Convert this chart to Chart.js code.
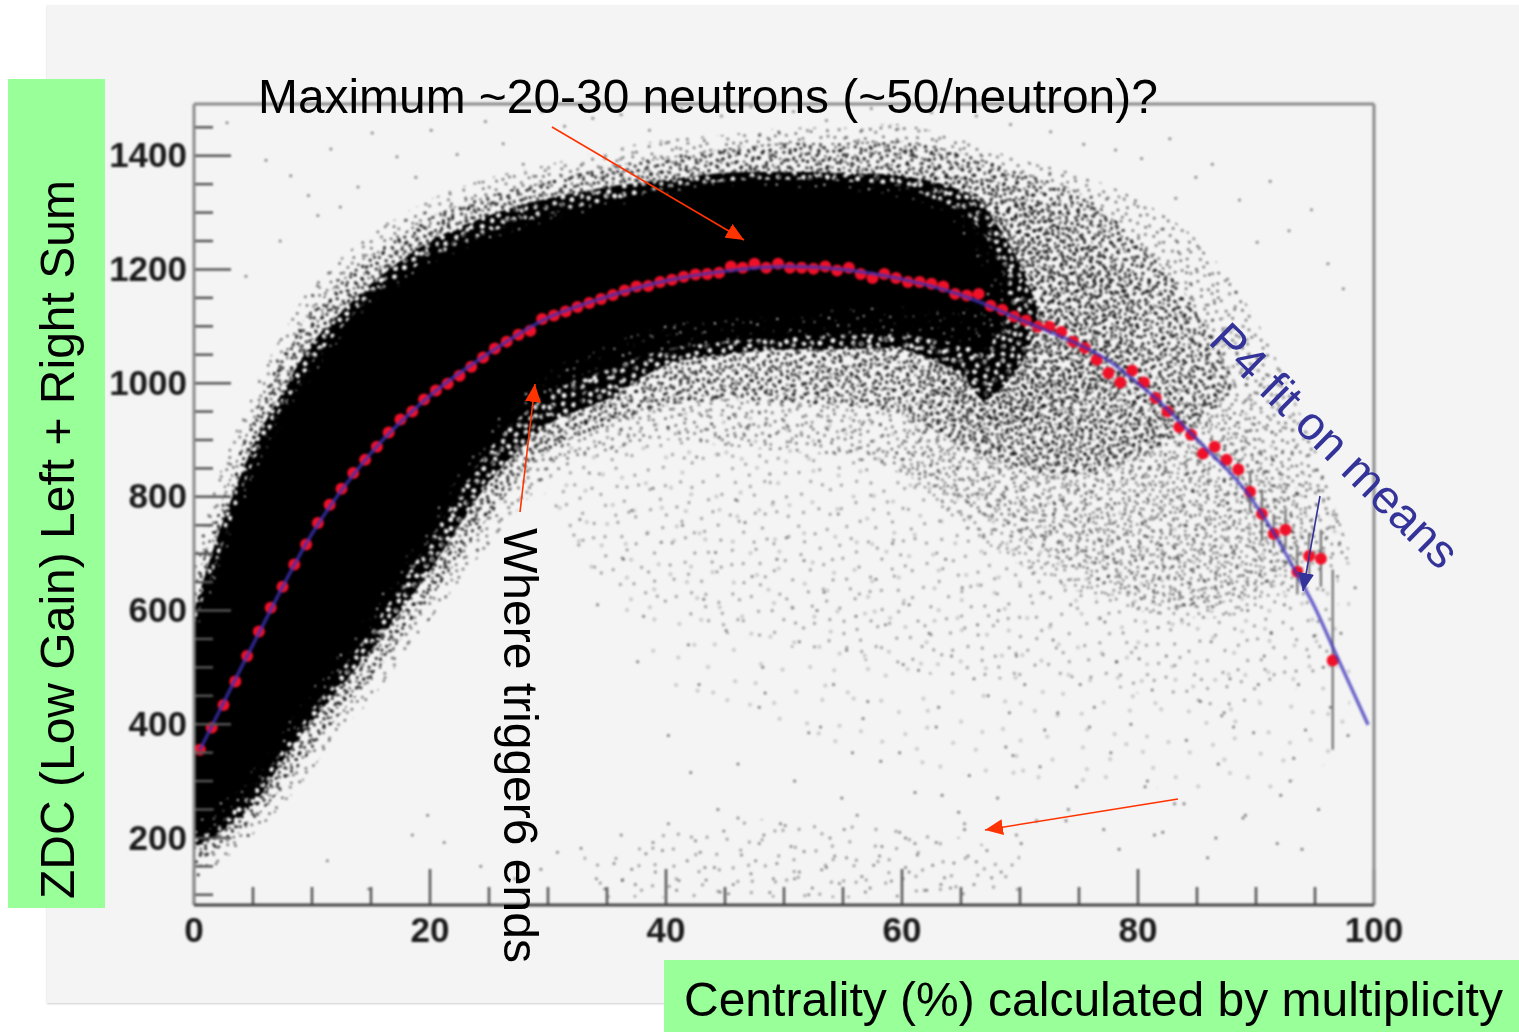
<!DOCTYPE html>
<html>
<head>
<meta charset="utf-8">
<title>ZDC vs centrality</title>
<script src="https://cdn.jsdelivr.net/npm/chart.js@4/dist/chart.umd.js"></script>
<style>
  html, body { margin: 0; padding: 0; background: #fff; overflow: hidden; }
  body { width: 1519px; height: 1032px; position: relative; font-family: "Liberation Sans", Arial, sans-serif; }
  #panel { position: absolute; left: 47px; top: 5px; width: 1472px; height: 998px; background: #f4f4f4; box-shadow: 0 1px 2px #ccc; }
  #wrap { position: absolute; left: 0; top: 0; width: 1519px; height: 1032px; filter: blur(0.8px); }
  .box { position: absolute; background: #99ff99; }
  .note { position: absolute; font-size: 48px; line-height: 48px; color: #000; white-space: nowrap; transform-origin: 0 0; }
  svg { position: absolute; left: 0; top: 0; }
</style>
</head>
<body>
<div id="panel"></div>
<div class="box" style="left:8px;top:79px;width:97px;height:829px"></div>
<div class="box" style="left:664px;top:960px;width:855px;height:72px"></div>
<div id="wrap"><canvas id="chart" width="1519" height="1032"></canvas></div>
<svg width="1519" height="1032">
  <defs>
    <marker id="redHead" markerUnits="userSpaceOnUse" markerWidth="20" markerHeight="16" refX="18" refY="8" orient="auto"><path d="M0,0 L18,8 L0,16 Z" fill="#ff3300"/></marker>
    <marker id="blueHead" markerUnits="userSpaceOnUse" markerWidth="20" markerHeight="16" refX="18" refY="8" orient="auto"><path d="M0,0 L18,8 L0,16 Z" fill="#333399"/></marker>
  </defs>
  <g stroke="#ff3300" stroke-width="1.6" fill="none">
    <line x1="552" y1="127" x2="744" y2="240" marker-end="url(#redHead)"/>
    <line x1="520" y1="512" x2="535" y2="384" marker-end="url(#redHead)"/>
    <line x1="1178" y1="799" x2="985" y2="830" marker-end="url(#redHead)"/>
  </g>
  <line x1="1320" y1="496" x2="1303" y2="591" stroke="#333399" stroke-width="1.6" marker-end="url(#blueHead)"/>
</svg>
<div class="note" style="left:258px;top:73px;font-size:47.9px">Maximum ~20-30 neutrons (~50/neutron)?</div>
<div class="note" style="left:684px;top:976px">Centrality (%) calculated by multiplicity</div>
<div class="note" style="left:34px;top:899px;transform:rotate(-90deg)">ZDC (Low Gain) Left + Right Sum</div>
<div class="note" style="left:544px;top:528px;transform:rotate(90deg)">Where trigger6 ends</div>
<div class="note" style="left:1235px;top:314px;font-size:47px;transform:rotate(44.5deg);color:#333399">P4 fit on means</div>
<script>
// axis ticks
const xTickLabels = [0, 20, 40, 60, 80, 100];
const yTickLabels = [200, 400, 600, 800, 1000, 1200, 1400];
const xMinorTicks = [5, 10, 15, 25, 30, 35, 45, 50, 55, 65, 70, 75, 85, 90, 95];
const yMinorTicks = [100, 150, 250, 300, 350, 450, 500, 550, 650, 700, 750, 850, 900, 950, 1050, 1100, 1150, 1250, 1300, 1350, 1450];

// means per centrality bin
const meanX = [0.5,1.5,2.5,3.5,4.5,5.5,6.5,7.5,8.5,9.5,10.5,11.5,12.5,13.5,14.5,15.5,16.5,17.5,18.5,19.5,20.5,21.5,22.5,23.5,24.5,25.5,26.5,27.5,28.5,29.5,30.5,31.5,32.5,33.5,34.5,35.5,36.5,37.5,38.5,39.5,40.5,41.5,42.5,43.5,44.5,45.5,46.5,47.5,48.5,49.5,50.5,51.5,52.5,53.5,54.5,55.5,56.5,57.5,58.5,59.5,60.5,61.5,62.5,63.5,64.5,65.5,66.5,67.5,68.5,69.5,70.5,71.5,72.5,73.5,74.5,75.5,76.5,77.5,78.5,79.5,80.5,81.5,82.5,83.5,84.5,85.5,86.5,87.5,88.5,89.5,90.5,91.5,92.5,93.5,94.5,95.5,96.5];
const meanY = [355,394,434,475,520,563,605,642,681,716,754,786,814,842,865,888,913,936,950,971,987,999,1013,1029,1045,1061,1073,1085,1092,1113,1119,1126,1134,1141,1148,1155,1163,1170,1171,1178,1182,1187,1191,1192,1194,1205,1203,1210,1203,1210,1203,1203,1201,1205,1198,1203,1192,1185,1192,1185,1178,1178,1175,1170,1157,1154,1157,1136,1129,1117,1110,1099,1099,1090,1073,1062,1041,1018,1001,1022,1001,974,950,923,909,876,888,865,848,809,770,735,742,668,696,691,512];

// error bars, only visible at the far end
const errX = [88.5,89.5,90.5,91.5,92.5,93.5,94.5,95.5,96.5];
const errLow = [830,775,725,710,708,628,659,642,355];
const errHigh = [866,845,812,770,778,710,737,742,672];

// P4 fit
const fitX = [0.5,5,10,15,20,25,30,35,40,45,50,55,60,65,70,75,77.4,79.6,81.9,84.2,86.1,88,89.5,91.5,93.5,95,96.5,99.5];
const fitY = [355,540,735,877,978,1053,1115,1152,1180,1197,1205,1200,1183,1155,1112,1068,1041,1006,966,918,878,838,800,737,663,605,536,399];

// edges of the scatter cloud, from solid black out to thin dust
const coreX = [0,2,5,7.5,10,12.5,15,20,25,30,35,40,45,50,55,60,64,66,67.5];
const coreTop = [549,663,830,927,1010,1080,1133,1206,1252,1284,1308,1331,1345,1345,1340,1325,1290,1235,1175];
const coreBottom = [223,258,320,390,461,531,601,760,918,1020,1068,1103,1112,1120,1129,1134,1125,1135,1165];
const innerX = [0,2,5,7.5,10,12.5,15,20,25,30,35,40,45,50,55,60,65,67,69];
const innerTop = [575,690,860,955,1035,1098,1150,1220,1265,1297,1320,1343,1355,1358,1355,1345,1300,1260,1170];
const innerBottom = [197,223,285,355,426,496,566,725,883,980,1024,1059,1073,1080,1085,1085,1068,1060,1120];
const midX = [0,2,5,7.5,10,12.5,15,20,25,30,35,40,45,50,55,60,65,67,70,71.5];
const midTop = [600,730,890,985,1070,1125,1175,1250,1295,1325,1345,1358,1370,1372,1370,1365,1340,1310,1210,1130];
const midBottom = [179,206,258,335,405,467,530,670,825,927,971,1032,1050,1059,1059,1059,1015,970,1030,1100];
const shoulderX = [0,2,5,7.5,10,12.5,15,20,25,30,35,40,45,50,55,60,65,70,75,80,85,88];
const shoulderTop = [640,770,940,1050,1130,1180,1225,1292,1330,1355,1380,1397,1412,1422,1422,1425,1405,1370,1335,1250,1130,1010];
const shoulderBottom = [150,180,230,290,355,420,480,620,765,880,925,960,970,965,960,945,890,850,840,870,930,980];
const shadeX = [62,68,74,80];
const shadeTop = [1385,1345,1285,1170];
const shadeBottom = [1000,930,960,1040];
const haloX = [0,2,5,7.5,10,12.5,15,20,25,30,35,40,45,50,55,60,65,70,75,80,85,90,95,98];
const haloTop = [689,830,988,1085,1173,1221,1261,1323,1361,1384,1410,1428,1437,1449,1449,1455,1428,1393,1367,1323,1252,1112,883,700];
const haloBottom = [126,153,206,258,320,390,443,584,716,830,880,900,890,880,870,840,790,730,670,620,600,640,689,690];
const thinX = [27,35,45,55,65,75,85,92,97];
const thinTop = [1000,1000,1000,1050,1100,1200,1150,1000,800];
const thinBottom = [900,650,560,520,480,480,430,450,500];
const rightX = [60,70,80,88,94];
const rightTop = [1000,1000,1020,950,800];
const rightBottom = [830,680,600,590,650];
const faintX = [30,40,50,60,70,80,90,98];
const faintTop = [950,950,950,950,950,950,950,700];
const faintBottom = [800,480,380,330,300,290,280,350];
const floorX = [33,40,50,60,70];
const floorTop = [170,210,235,225,170];
const floorBottom = [95,95,95,95,100];

// stray events, read by eye
const strayX = [2.8,6.1,8.2,10.5,12.4,13.9,15.1,17.2,4.4,7.3,9.7,11.6,14.6,16.4,18.8,20.1,22.3,24.7,26.2,27.9,19.6,23.4,29.5,31.4,33.8,36.2,38.6,41.3,44.7,47.2,50.8,53.6,57.4,62.5,66.3,69.2,72.6,75.4,78.1,80.3,82.7,84.9,86.3,88.6,91.2,92.8,94.7,96.1,97.4,90.1,87.4,83.2];
const strayY = [1458,1392,1365,1295,1310,1345,1440,1398,1188,1250,1330,1412,1225,1280,1362,1445,1402,1460,1421,1385,1238,1310,1478,1452,1466,1472,1445,1482,1470,1486,1478,1462,1483,1476,1470,1455,1442,1420,1410,1395,1430,1362,1385,1322,1355,1268,1305,1210,1166,1248,1180,1325];
const sparseX = [31.2,33.5,35.8,37.1,38.9,41.4,42.6,44.2,45.9,47.3,48.8,50.2,51.7,53.4,54.6,56.1,57.8,59.2,60.6,62.3,63.7,65.1,66.4,68.2,69.7,71.1,72.8,74.3,75.6,77.2,78.9,80.1,81.7,83.4,84.6,86.2,87.8,89.3,90.7,92.4,93.6,94.9,96.3,97.8,98.4,
  32.7,36.4,39.6,43.2,46.7,49.4,52.8,55.3,58.6,61.4,64.2,67.3,70.4,73.2,76.3,79.4,82.4,85.3,88.1,91.3,94.2,96.9,
  34.2,38.1,41.9,45.1,48.2,51.3,54.2,57.1,60.1,63.1,66.1,69.1,72.1,75.1,78.2,81.2,84.1,87.1,90.2,93.2,95.7,97.2,
  37.6,42.8,47.9,52.1,56.7,59.8,62.9,65.7,68.8,71.7,74.8,77.7,80.8,83.9,86.8,89.8,92.9,95.3,
  40.2,46.1,50.9,55.8,61.1,64.8,68.1,71.4,74.1,77.1,80.6,83.1,86.6,89.1,92.1,
  44.4,49.7,54.9,60.3,65.3,70.1,73.9,78.4,82.1,85.9,88.9,91.8,
  42.1,48.4,53.1,58.2,63.4,69.4,75.9,81.4,87.3,93.9];
const sparseY = [905,842,880,776,815,750,870,702,795,660,840,728,688,632,770,590,655,718,610,560,690,640,575,600,520,665,548,610,705,580,640,515,570,690,612,545,480,600,520,610,470,555,430,380,640,
  760,690,720,620,755,690,600,530,575,495,520,450,470,420,430,400,520,440,395,560,390,660,
  610,590,540,565,500,545,470,440,505,430,480,420,390,470,510,460,372,415,470,340,500,560,
  510,470,430,385,410,350,395,310,360,325,290,350,300,260,330,385,300,250,
  380,330,300,350,280,245,270,230,250,215,290,260,200,240,275,
  250,225,270,200,215,190,230,180,210,165,235,190,
  315,455,395,335,275,345,395,205,420,180];
const bottomX = [32.8,34.1,35.6,36.2,37.4,38.3,39.1,40.2,40.9,41.8,42.5,43.4,44.1,44.9,45.7,46.4,47.2,47.9,48.8,49.4,50.1,50.9,51.7,52.4,53.2,53.9,54.7,55.3,56.2,56.9,57.6,58.3,59.1,59.8,60.6,61.3,62.1,62.9,63.6,64.4,65.3,66.1,67.2,68.4,69.7,
  34.8,37.1,38.9,41.1,42.9,44.6,46.1,47.6,49.1,50.6,52.1,53.6,55.1,56.6,58.1,59.6,61.1,62.6,64.1,65.6,67.6,
  36.3,39.7,43.3,45.3,48.3,51.3,54.3,57.3,60.3,63.3,66.3,19.8,18.5,21.2,11.3,14.8,24.3,27.2,29.4,30.8];
const bottomY = [182,128,155,205,118,172,140,225,108,160,195,126,148,212,118,170,137,190,104,155,222,128,176,112,144,200,120,165,240,105,152,185,124,210,140,170,108,192,130,156,225,118,178,140,205,
  110,145,192,125,175,105,235,160,128,185,100,148,215,132,168,98,190,152,112,168,130,
  125,178,148,102,205,140,168,112,148,118,158,240,205,192,160,110,150,128,145,175];

// tile of irregular dots for the grainy cloud edges
const grainDots = [7,3,19,11,23,4,38,17,41,2,55,9,63,23,71,5,90,12,97,1,108,19,118,7,125,26,
  2,29,13,41,29,22,35,33,47,28,60,38,77,27,81,18,88,36,101,31,114,40,121,17,
  9,54,25,48,31,61,44,45,52,57,67,49,73,66,85,52,96,47,105,63,117,52,127,59,
  4,72,16,66,21,83,37,70,56,77,62,90,79,76,91,69,100,85,112,74,124,88,
  11,97,27,101,33,89,46,95,51,108,68,103,75,92,86,99,95,111,108,98,119,106,
  6,116,18,122,30,113,41,125,58,119,66,114,83,124,92,118,103,126,115,120,126,113,
  48,14,77,43,34,78,59,66,14,90,99,56,122,35,70,124,24,35,88,84];

const ctx = document.getElementById("chart").getContext("2d");

function makeTile(paint) {
  const tile = document.createElement("canvas");
  tile.width = 128;
  tile.height = 128;
  paint(tile.getContext("2d"));
  return tile;
}

function placeDots(t, size) {
  for (let i = 0; i < grainDots.length; i += 2) {
    t.beginPath();
    t.arc(grainDots[i], grainDots[i + 1], size, 0, Math.PI * 2);
    t.fill();
  }
}

function tilePattern(tile, angle, zoom) {
  const pattern = ctx.createPattern(tile, "repeat");
  pattern.setTransform(new DOMMatrix().rotate(angle).scale(zoom));
  return pattern;
}

// dark specks on clear
function grain(angle, zoom, alpha, size) {
  const tile = makeTile(t => {
    t.fillStyle = `rgba(0,0,0,${alpha})`;
    placeDots(t, size);
  });
  return tilePattern(tile, angle, zoom);
}

// black with clear specks punched out of it
function holes(angle, zoom, size) {
  const tile = makeTile(t => {
    t.fillStyle = "#000";
    t.fillRect(0, 0, 128, 128);
    t.globalCompositeOperation = "destination-out";
    placeDots(t, size);
  });
  return tilePattern(tile, angle, zoom);
}

function toPoints(xs, ys) {
  return xs.map((x, i) => ({ x: x, y: ys[i] }));
}

// a filled band between two edges; the filler takes the next dataset as its lower edge
function band(xs, top, bottom, color) {
  const edge = { showLine: true, pointRadius: 0, borderWidth: 0, tension: 0.3 };
  return [
    { ...edge, data: toPoints(xs, top), fill: "+1", backgroundColor: color },
    { ...edge, data: toPoints(xs, bottom), fill: false }
  ];
}

function errorSegments() {
  const points = [];
  errX.forEach((x, i) => {
    points.push({ x: x, y: errLow[i] }, { x: x, y: errHigh[i] }, { x: x, y: null });
  });
  return points;
}

// ROOT style ticks that sit inside the frame, and the frame itself
const frameTicks = {
  id: "frameTicks",
  afterDatasetsDraw(chart) {
    const { ctx, chartArea: a, scales: { x, y } } = chart;
    ctx.save();
    ctx.strokeStyle = "#555";
    ctx.lineWidth = 2.5;
    const tick = (x1, y1, x2, y2) => {
      ctx.beginPath();
      ctx.moveTo(x1, y1);
      ctx.lineTo(x2, y2);
      ctx.stroke();
    };
    xTickLabels.forEach(v => tick(x.getPixelForValue(v), a.bottom, x.getPixelForValue(v), a.bottom - 36));
    xMinorTicks.forEach(v => tick(x.getPixelForValue(v), a.bottom, x.getPixelForValue(v), a.bottom - 18));
    yTickLabels.forEach(v => tick(a.left, y.getPixelForValue(v), a.left + 37, y.getPixelForValue(v)));
    yMinorTicks.forEach(v => tick(a.left, y.getPixelForValue(v), a.left + 19, y.getPixelForValue(v)));
    ctx.strokeStyle = "#8a8a8a";
    ctx.lineWidth = 3;
    tick(a.left, a.top, a.right, a.top);
    tick(a.right, a.top, a.right, a.bottom);
    tick(a.left, a.top, a.left, a.bottom);
    ctx.strokeStyle = "#444";
    tick(a.left, a.bottom, a.right, a.bottom);
    ctx.restore();
  }
};

const tickFont = { family: "Liberation Sans", size: 35, weight: "bold" };

new Chart(ctx, {
  type: "scatter",
  data: {
    datasets: [
      { data: toPoints(fitX, fitY), showLine: true, pointRadius: 0, borderColor: "rgba(60,50,185,0.75)", borderWidth: 3.5, tension: 0.3 },
      { data: toPoints(meanX, meanY), pointRadius: 6, pointBackgroundColor: "#f01028", pointBorderWidth: 0 },
      { data: errorSegments(), showLine: true, pointRadius: 0, borderColor: "#666", borderWidth: 2, spanGaps: false },
      ...band(coreX, coreTop, coreBottom, "#000"),
      ...band(innerX, innerTop, innerBottom, holes(11, 0.5, 2.2)),
      ...band(midX, midTop, midBottom, holes(37, 0.55, 4.6)),
      ...band(shadeX, shadeTop, shadeBottom, grain(29, 0.55, 0.7, 3)),
      ...band(shoulderX, shoulderTop, shoulderBottom, grain(0, 0.55, 0.75, 3)),
      ...band(shoulderX, shoulderTop, shoulderBottom, grain(64, 0.6, 0.7, 2.8)),
      ...band(haloX, haloTop, haloBottom, grain(17, 0.7, 0.55, 2.1)),
      ...band(haloX, haloTop, haloBottom, grain(52, 0.85, 0.5, 1.8)),
      ...band(rightX, rightTop, rightBottom, grain(83, 0.8, 0.45, 1.8)),
      ...band(rightX, rightTop, rightBottom, grain(121, 0.7, 0.45, 1.9)),
      ...band(thinX, thinTop, thinBottom, grain(101, 1.1, 0.45, 1.3)),
      ...band(faintX, faintTop, faintBottom, grain(137, 1.7, 0.42, 0.8)),
      ...band(floorX, floorTop, floorBottom, grain(23, 1.2, 0.42, 1.2)),
      { data: toPoints(strayX, strayY), pointRadius: 1.5, pointBackgroundColor: "rgba(0,0,0,0.45)", pointBorderWidth: 0 },
      { data: toPoints(sparseX, sparseY), pointRadius: 1.5, pointBackgroundColor: "rgba(0,0,0,0.5)", pointBorderWidth: 0 },
      { data: toPoints(bottomX, bottomY), pointRadius: 1.5, pointBackgroundColor: "rgba(0,0,0,0.45)", pointBorderWidth: 0 }
    ]
  },
  options: {
    responsive: false,
    animation: false,
    layout: { padding: { left: 0, top: 104, right: 145, bottom: 0 } },
    plugins: { legend: { display: false }, tooltip: { enabled: false } },
    scales: {
      x: {
        type: "linear", min: 0, max: 100, position: "bottom",
        afterBuildTicks: scale => { scale.ticks = xTickLabels.map(v => ({ value: v })); },
        afterFit: scale => { scale.height = 127; },
        grid: { display: false, drawTicks: false },
        border: { display: false },
        ticks: { autoSkip: false, maxRotation: 0, color: "#1a1a1a", padding: 6, font: tickFont, callback: v => String(v) }
      },
      y: {
        type: "linear", min: 82, max: 1491, position: "left",
        afterBuildTicks: scale => { scale.ticks = yTickLabels.map(v => ({ value: v })); },
        afterFit: scale => { scale.width = 194; },
        grid: { display: false, drawTicks: false },
        border: { display: false },
        ticks: { autoSkip: false, color: "#1a1a1a", padding: 7, labelOffset: 2, font: tickFont, callback: v => String(v) }
      }
    }
  },
  plugins: [frameTicks]
});
</script>
</body>
</html>
